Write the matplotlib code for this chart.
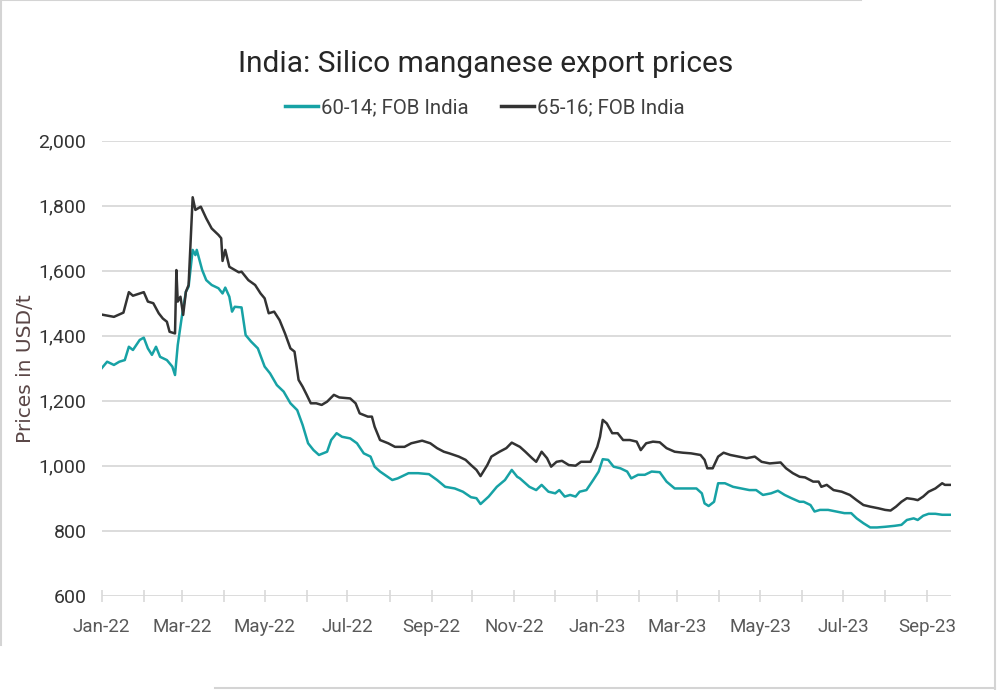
import numpy as np
import pandas as pd
import matplotlib
matplotlib.use("Agg")
import matplotlib.pyplot as plt
import matplotlib.dates as mdates
from matplotlib.lines import Line2D
from matplotlib.ticker import FuncFormatter

# Data (days counted from 1 Jan 2022, USD/t)
start_date = "2022-01-01"

days_6014 = [0, 4, 9, 13, 17, 20, 23, 28, 31, 34, 37, 40, 43, 48, 52, 54, 56, 59, 62, 64,
             67, 69, 70, 74, 77, 81, 86, 89, 91, 94, 96, 98, 103, 106, 110, 115, 120, 124, 129, 134,
             139, 144, 148, 152, 156, 160, 166, 169, 173, 177, 183, 188, 193, 198, 201, 205, 214, 218, 226, 233,
             241, 247, 253, 260, 266, 272, 276, 279, 285, 291, 297, 302, 306, 308, 315, 320, 324, 329, 334, 337,
             341, 345, 349, 352, 357, 362, 366, 369, 373, 377, 382, 387, 390, 395, 400, 405, 411, 416, 422, 430,
             438, 442, 444, 447, 451, 454, 459, 465, 471, 477, 482, 487, 493, 498, 503, 508, 514, 517, 522, 525,
             529, 535, 541, 547, 552, 556, 561, 566, 571, 577, 584, 589, 593, 598, 601, 605, 609, 614, 619, 625]
price_6014 = [1300, 1320, 1310, 1320, 1325, 1366, 1356, 1387, 1394, 1361, 1341, 1366, 1335, 1325, 1305, 1279, 1371, 1458, 1535, 1551,
              1664, 1648, 1664, 1602, 1571, 1556, 1546, 1530, 1548, 1520, 1474, 1489, 1487, 1402, 1382, 1361, 1305, 1284, 1248, 1228,
              1192, 1171, 1125, 1069, 1048, 1033, 1043, 1079, 1100, 1089, 1084, 1069, 1038, 1028, 997, 982, 956, 961, 977, 977,
              974, 956, 935, 930, 920, 903, 900, 882, 905, 935, 956, 987, 966, 961, 935, 925, 941, 920, 915, 925,
              905, 910, 905, 920, 925, 956, 982, 1020, 1018, 997, 992, 982, 961, 972, 972, 982, 980, 951, 930, 930,
              930, 915, 884, 876, 889, 946, 946, 935, 930, 925, 925, 910, 915, 923, 910, 900, 889, 889, 879, 859,
              864, 864, 859, 854, 854, 838, 823, 810, 810, 812, 815, 818, 833, 838, 833, 846, 852, 852, 849, 849]

days_6516 = [0, 9, 16, 20, 23, 31, 34, 38, 42, 45, 48, 50, 54, 55, 56, 58, 60, 62, 64, 67,
             69, 73, 77, 81, 86, 88, 89, 91, 94, 101, 103, 108, 113, 117, 120, 123, 127, 131, 135, 139,
             142, 145, 148, 151, 154, 158, 162, 166, 171, 175, 183, 187, 190, 196, 199, 201, 205, 211, 216, 223,
             228, 236, 242, 247, 252, 256, 263, 268, 272, 276, 279, 284, 287, 293, 298, 302, 308, 312, 317, 320,
             324, 328, 331, 335, 339, 344, 349, 353, 360, 365, 367, 369, 372, 376, 380, 384, 389, 394, 397, 401,
             406, 411, 416, 422, 428, 434, 441, 444, 446, 450, 454, 458, 463, 469, 475, 481, 486, 492, 500, 504,
             509, 514, 518, 524, 528, 530, 534, 539, 545, 551, 556, 561, 566, 572, 577, 581, 585, 589, 593, 598,
             601, 605, 609, 614, 619, 621, 625]
price_6516 = [1465, 1458, 1471, 1534, 1523, 1534, 1505, 1500, 1469, 1453, 1443, 1412, 1407, 1602, 1505, 1520, 1464, 1535, 1556, 1826,
              1787, 1797, 1761, 1730, 1710, 1700, 1630, 1664, 1612, 1595, 1597, 1571, 1556, 1530, 1515, 1469, 1474, 1448, 1407, 1361,
              1351, 1264, 1243, 1218, 1192, 1192, 1187, 1197, 1218, 1210, 1207, 1192, 1161, 1151, 1151, 1120, 1079, 1069, 1058, 1058,
              1069, 1077, 1069, 1054, 1043, 1038, 1028, 1018, 1002, 987, 968, 1002, 1028, 1043, 1054, 1071, 1058, 1043, 1023, 1012,
              1043, 1023, 997, 1012, 1015, 1002, 1000, 1012, 1012, 1058, 1089, 1141, 1130, 1100, 1100, 1079, 1079, 1074, 1048, 1069,
              1074, 1072, 1054, 1043, 1040, 1038, 1033, 1018, 992, 992, 1028, 1040, 1033, 1028, 1023, 1028, 1012, 1007, 1010, 992,
              977, 966, 964, 951, 951, 935, 941, 925, 920, 910, 894, 879, 874, 869, 864, 862, 874, 889, 900, 897,
              894, 905, 920, 930, 946, 941, 941]

label_6014 = "60-14; FOB India"
label_6516 = "65-16; FOB India"
title = "India: Silico manganese export prices"
y_label = "Prices in USD/t"
y_ticks = [600, 800, 1000, 1200, 1400, 1600, 1800, 2000]

teal = "#17a2a5"
dark = "#333333"
grid_col = "#d9d9d9"

narrow = ["Roboto", "DejaVu Sans"]

t0 = pd.Timestamp(start_date)
dates_6014 = t0 + pd.to_timedelta(days_6014, unit="D")
dates_6516 = t0 + pd.to_timedelta(days_6516, unit="D")

fig = plt.figure(figsize=(9.99, 6.9), dpi=100)
ax = fig.add_axes([101.7 / 999, 94.3 / 690, (951 - 101.7) / 999, (595.7 - 140.7) / 690])

ax.plot(dates_6014, price_6014, color=teal, lw=1.8, label=label_6014, zorder=3)
ax.plot(dates_6516, price_6516, color=dark, lw=1.8, label=label_6516, zorder=3)

ax.set_ylim(600, 2000)
ax.set_xlim(t0, t0 + pd.Timedelta(days=625.5))
ax.set_yticks(y_ticks)
ax.yaxis.set_major_formatter(FuncFormatter(lambda v, p: f"{int(v):,}"))
ax.grid(axis="y", color=grid_col, lw=1.3)
ax.set_axisbelow(True)
for s in ax.spines.values():
    s.set_visible(False)

ax.xaxis.set_major_locator(mdates.MonthLocator(bymonth=[1, 3, 5, 7, 9, 11]))
ax.xaxis.set_minor_locator(mdates.MonthLocator())
ax.xaxis.set_major_formatter(mdates.DateFormatter("%b-%y"))
ax.tick_params(axis="x", which="both", direction="inout", length=8, width=1.2,
               color=grid_col, pad=12)
ax.tick_params(axis="x", which="major", labelsize=13.5, labelcolor="#595959")
ax.tick_params(axis="y", length=0, pad=11, labelsize=14, labelcolor="#333333")
for lab in ax.get_xticklabels() + ax.get_yticklabels():
    lab.set_family(narrow)

ax.set_ylabel(y_label, fontsize=14.5, color="#5a4646", family="DejaVu Sans")
ax.yaxis.set_label_coords(-0.078, 0.5)

fig.text(486 / 999, 1 - 64 / 690, title, ha="center", va="center", fontsize=21.5,
         color="#262626", family=narrow)
leg = fig.legend(loc="center", bbox_to_anchor=(485 / 999, 1 - 108 / 690), ncol=2,
                 frameon=False, handlelength=1.6, handletextpad=0.15, columnspacing=1.6,
                 prop={"family": narrow, "size": 14.7})
for txt in leg.get_texts():
    txt.set_color("#404040")
for h in leg.legend_handles:
    h.set_linewidth(2.5)

# light frame lines round the picture
frame = "#d4d4d4"
fig.add_artist(Line2D([0, 861 / 999], [0.9993, 0.9993], color=frame, lw=1.5, transform=fig.transFigure))
fig.add_artist(Line2D([0.0007, 0.0007], [1, 1 - 645 / 690], color=frame, lw=1.5, transform=fig.transFigure))
fig.add_artist(Line2D([995 / 999, 995 / 999], [0, 1], color=frame, lw=1.5, transform=fig.transFigure))
fig.add_artist(Line2D([215 / 999, 995 / 999], [1 - 688 / 690, 1 - 688 / 690], color=frame, lw=1.5,
                      transform=fig.transFigure))

fig.savefig("out.png", dpi=100)
